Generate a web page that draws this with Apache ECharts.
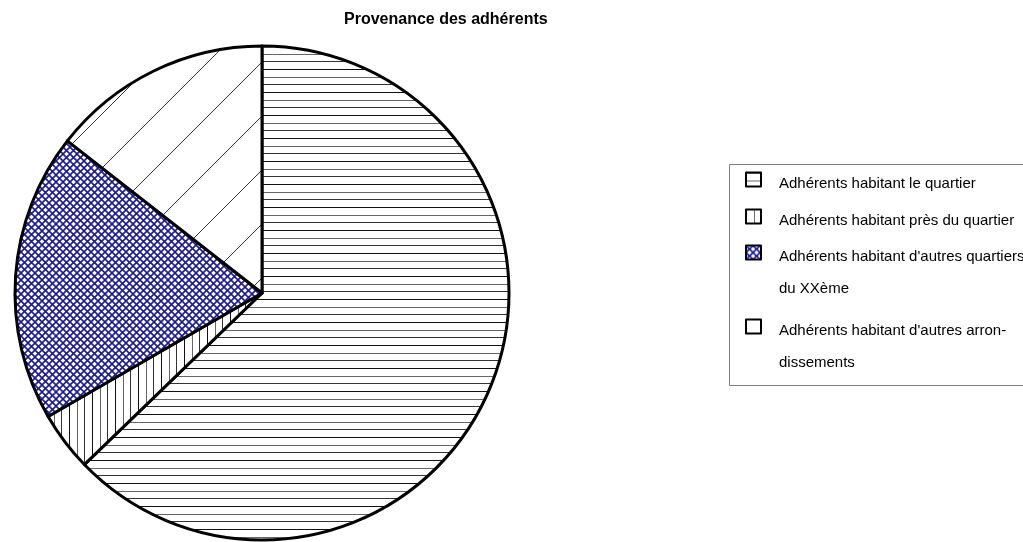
<!DOCTYPE html>
<html>
<head>
<meta charset="utf-8">
<title>Provenance des adhérents</title>
<style>
  * { margin: 0; padding: 0; }
  body { background: #fff; }
  #main { width: 1023px; height: 542px; }
</style>
</head>
<body>
<div id="main"></div>
<script src="https://cdn.jsdelivr.net/npm/echarts@6/dist/echarts.min.js"></script>
<script>
// données (effectifs, total 180)
var categories = [
  "Adhérents habitant le quartier",
  "Adhérents habitant près du quartier",
  "Adhérents habitant d'autres quartiers du XXème",
  "Adhérents habitant d'autres arrondissements"
];
var legendLines = [
  ["Adhérents habitant le quartier"],
  ["Adhérents habitant près du quartier"],
  ["Adhérents habitant d'autres quartiers", "du XXème"],
  ["Adhérents habitant d'autres arron-", "dissements"]
];
var values = [113, 7, 34, 26];

// motifs de remplissage (hachures)
function makePattern(w, h, draw) {
  var c = document.createElement('canvas');
  c.width = w; c.height = h;
  var ctx = c.getContext('2d');
  ctx.fillStyle = '#fff';
  ctx.fillRect(0, 0, w, h);
  draw(ctx);
  return { image: c, repeat: 'repeat' };
}
var horiz = makePattern(4, 23, function (ctx) {
  ctx.fillStyle = '#111'; ctx.fillRect(0, 0, 4, 1);
  ctx.fillStyle = '#666'; ctx.fillRect(0, 8, 4, 1);
  ctx.fillStyle = '#333'; ctx.fillRect(0, 15, 4, 1);
});
var vert = makePattern(23, 4, function (ctx) {
  ctx.fillStyle = '#111'; ctx.fillRect(0, 0, 1, 4);
  ctx.fillStyle = '#666'; ctx.fillRect(8, 0, 1, 4);
  ctx.fillStyle = '#333'; ctx.fillRect(15, 0, 1, 4);
});
var cross = makePattern(7, 7, function (ctx) {
  ctx.strokeStyle = '#1a1a9a';
  ctx.lineWidth = 1.6;
  ctx.beginPath();
  ctx.moveTo(-1, -1); ctx.lineTo(8, 8);
  ctx.moveTo(-1, 8); ctx.lineTo(8, -1);
  ctx.stroke();
});
var diag = makePattern(54, 54, function (ctx) {
  ctx.strokeStyle = '#333';
  ctx.lineWidth = 1;
  ctx.beginPath();
  ctx.moveTo(-2, 56); ctx.lineTo(56, -2);
  ctx.stroke();
});
var patterns = [horiz, vert, cross, diag];

var chart = echarts.init(document.getElementById('main'));

var pieData = categories.map(function (name, i) {
  return { name: name, value: values[i], itemStyle: { color: patterns[i] } };
});

// une légende par entrée ; la ligne vide "p" cale la 1re ligne sur le carré
var LH = 32;
var legendTops = [163, 200, 220, 294];
var legends = categories.map(function (name, i) {
  var lines = legendLines[i];
  var padH = lines.length === 1 ? 8 : 8 + LH;
  return {
    data: [name],
    left: 745,
    top: legendTops[i],
    padding: 0,
    itemWidth: 15,
    itemHeight: 14,
    selectedMode: false,
    icon: 'rect',
    itemStyle: { borderColor: '#000', borderWidth: 2 },
    formatter: function () {
      return '{p| }\n' + lines.map(function (l) { return '{t|' + l + '}'; }).join('\n');
    },
    textStyle: {
      color: '#000',
      padding: [0, 0, 0, 13],
      rich: {
        p: { fontSize: 1, lineHeight: padH },
        t: {
          fontFamily: 'Liberation Sans, Arial, sans-serif',
          fontSize: 15,
          lineHeight: LH,
          color: '#000'
        }
      }
    }
  };
});

var option = {
  animation: false,
  backgroundColor: '#fff',
  title: {
    text: 'Provenance des adhérents',
    left: 344,
    top: 12,
    padding: 0,
    textStyle: {
      fontFamily: 'Liberation Sans, Arial, sans-serif',
      fontWeight: 'bold',
      fontSize: 16,
      color: '#000'
    }
  },
  legend: legends,
  graphic: [{
    type: 'rect',
    z: -1,
    shape: { x: 729.5, y: 164.5, width: 400, height: 221 },
    style: { fill: '#fff', stroke: '#808080', lineWidth: 1 }
  }],
  series: [{
    type: 'pie',
    center: [262, 293],
    radius: 247,
    startAngle: 90,
    clockwise: true,
    label: { show: false },
    labelLine: { show: false },
    emphasis: { disabled: true },
    itemStyle: { borderColor: '#000', borderWidth: 3 },
    data: pieData
  }]
};
chart.setOption(option);
</script>
</body>
</html>
